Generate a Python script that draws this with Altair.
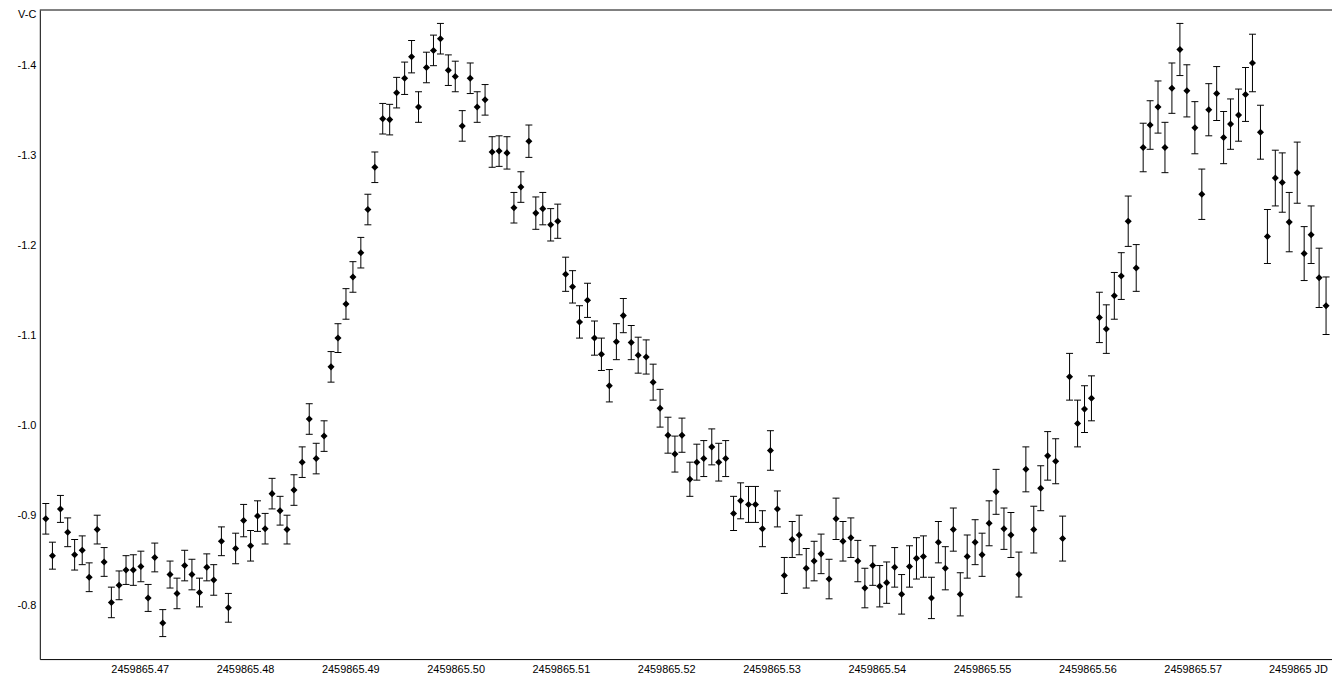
import altair as alt
import pandas as pd

BASE_JD = 2459865

# fractional part of JD
t_frac = [
    0.46108, 0.46171, 0.46247, 0.46316, 0.46382, 0.46454, 0.46520, 0.46596, 0.46662, 0.46731,
    0.46804, 0.46870, 0.46939, 0.47011, 0.47080, 0.47143, 0.47219, 0.47288, 0.47354, 0.47427,
    0.47496, 0.47568, 0.47637, 0.47703, 0.47776, 0.47842, 0.47911, 0.47987, 0.48053, 0.48119,
    0.48191, 0.48257, 0.48333, 0.48399, 0.48465, 0.48543, 0.48610, 0.48676, 0.48751, 0.48817,
    0.48883, 0.48959, 0.49025, 0.49100, 0.49167, 0.49233, 0.49308, 0.49374, 0.49440, 0.49516,
    0.49582, 0.49648, 0.49723, 0.49790, 0.49856, 0.49931, 0.49997, 0.50063, 0.50139, 0.50205,
    0.50280, 0.50347, 0.50413, 0.50488, 0.50554, 0.50620, 0.50696, 0.50762, 0.50828, 0.50903,
    0.50970, 0.51045, 0.51111, 0.51177, 0.51253, 0.51319, 0.51385, 0.51460, 0.51527, 0.51593,
    0.51668, 0.51734, 0.51810, 0.51876, 0.51942, 0.52017, 0.52083, 0.52150, 0.52225, 0.52291,
    0.52357, 0.52433, 0.52499, 0.52565, 0.52640, 0.52707, 0.52782, 0.52848, 0.52914, 0.52990,
    0.53056, 0.53122, 0.53197, 0.53263, 0.53330, 0.53405, 0.53471, 0.53547, 0.53613, 0.53679,
    0.53754, 0.53820, 0.53887, 0.53962, 0.54028, 0.54094, 0.54170, 0.54236, 0.54311, 0.54377,
    0.54443, 0.54519, 0.54585, 0.54651, 0.54727, 0.54793, 0.54859, 0.54934, 0.55000, 0.55067,
    0.55133, 0.55208, 0.55274, 0.55350, 0.55416, 0.55491, 0.55557, 0.55623, 0.55699, 0.55765,
    0.55831, 0.55907, 0.55973, 0.56039, 0.56114, 0.56180, 0.56256, 0.56322, 0.56388, 0.56464,
    0.56530, 0.56596, 0.56671, 0.56737, 0.56803, 0.56879, 0.56945, 0.57021, 0.57087, 0.57153,
    0.57228, 0.57294, 0.57360, 0.57436, 0.57502, 0.57568, 0.57644, 0.57710, 0.57785, 0.57851,
    0.57917, 0.57993, 0.58059, 0.58125, 0.58201, 0.58267,
]

# V-C magnitude
mag = [
    -0.896, -0.855, -0.907, -0.881, -0.856, -0.861, -0.831, -0.884, -0.848, -0.803,
    -0.822, -0.839, -0.839, -0.843, -0.808, -0.853, -0.780, -0.834, -0.813, -0.844,
    -0.834, -0.814, -0.842, -0.828, -0.871, -0.797, -0.863, -0.894, -0.866, -0.899,
    -0.885, -0.924, -0.905, -0.884, -0.928, -0.959, -1.007, -0.963, -0.988, -1.065,
    -1.097, -1.135, -1.165, -1.192, -1.240, -1.287, -1.341, -1.340, -1.370, -1.386,
    -1.410, -1.354, -1.398, -1.417, -1.430, -1.395, -1.388, -1.333, -1.386, -1.354,
    -1.362, -1.304, -1.305, -1.303, -1.242, -1.265, -1.316, -1.236, -1.241, -1.223,
    -1.227, -1.168, -1.154, -1.115, -1.139, -1.097, -1.079, -1.044, -1.093, -1.122,
    -1.092, -1.078, -1.076, -1.048, -1.019, -0.989, -0.968, -0.989, -0.940, -0.959,
    -0.963, -0.976, -0.959, -0.963, -0.902, -0.916, -0.912, -0.912, -0.885, -0.972,
    -0.907, -0.833, -0.873, -0.878, -0.841, -0.849, -0.857, -0.829, -0.896, -0.871,
    -0.875, -0.849, -0.819, -0.844, -0.821, -0.825, -0.842, -0.812, -0.843, -0.852,
    -0.854, -0.808, -0.870, -0.841, -0.884, -0.812, -0.854, -0.870, -0.856, -0.891,
    -0.926, -0.885, -0.878, -0.834, -0.951, -0.884, -0.930, -0.966, -0.960, -0.874,
    -1.054, -1.002, -1.018, -1.030, -1.120, -1.107, -1.144, -1.166, -1.227, -1.175,
    -1.309, -1.334, -1.354, -1.309, -1.375, -1.418, -1.372, -1.331, -1.257, -1.351,
    -1.369, -1.320, -1.335, -1.345, -1.368, -1.403, -1.326, -1.210, -1.275, -1.270,
    -1.226, -1.281, -1.191, -1.212, -1.164, -1.133,
]

# magnitude error
err = [
    0.017, 0.015, 0.015, 0.016, 0.017, 0.016, 0.016, 0.016, 0.016, 0.017,
    0.016, 0.016, 0.017, 0.017, 0.015, 0.016, 0.015, 0.015, 0.017, 0.017,
    0.017, 0.016, 0.015, 0.017, 0.016, 0.016, 0.017, 0.018, 0.017, 0.017,
    0.017, 0.017, 0.016, 0.016, 0.017, 0.017, 0.017, 0.017, 0.017, 0.017,
    0.016, 0.017, 0.017, 0.017, 0.017, 0.017, 0.017, 0.017, 0.017, 0.018,
    0.018, 0.017, 0.017, 0.017, 0.017, 0.017, 0.017, 0.017, 0.017, 0.017,
    0.017, 0.017, 0.017, 0.018, 0.017, 0.017, 0.018, 0.018, 0.018, 0.018,
    0.019, 0.019, 0.018, 0.018, 0.019, 0.019, 0.018, 0.018, 0.020, 0.019,
    0.019, 0.020, 0.019, 0.020, 0.021, 0.020, 0.020, 0.019, 0.019, 0.020,
    0.020, 0.020, 0.021, 0.020, 0.019, 0.020, 0.020, 0.020, 0.020, 0.022,
    0.020, 0.020, 0.020, 0.022, 0.022, 0.022, 0.022, 0.022, 0.023, 0.022,
    0.022, 0.023, 0.022, 0.022, 0.023, 0.023, 0.022, 0.022, 0.023, 0.023,
    0.023, 0.023, 0.023, 0.024, 0.024, 0.024, 0.024, 0.025, 0.024, 0.025,
    0.025, 0.023, 0.025, 0.025, 0.025, 0.026, 0.025, 0.027, 0.025, 0.025,
    0.026, 0.026, 0.026, 0.025, 0.028, 0.027, 0.026, 0.026, 0.028, 0.026,
    0.027, 0.027, 0.029, 0.028, 0.028, 0.029, 0.029, 0.029, 0.028, 0.029,
    0.030, 0.029, 0.028, 0.029, 0.030, 0.032, 0.030, 0.030, 0.031, 0.033,
    0.033, 0.034, 0.030, 0.032, 0.033, 0.032,
]

x_ticks = [2459865.47, 2459865.48, 2459865.49, 2459865.50, 2459865.51, 2459865.52,
           2459865.53, 2459865.54, 2459865.55, 2459865.56, 2459865.57, 2459865.58]
y_ticks = [-1.4, -1.3, -1.2, -1.1, -1.0, -0.9, -0.8]

df = pd.DataFrame({
    "jd": [BASE_JD + t for t in t_frac],
    "mag": mag,
    "err": err,
})
df["lo"] = df["mag"] - df["err"]
df["hi"] = df["mag"] + df["err"]

FONT = "Liberation Sans"

xscale = alt.Scale(domain=[2459865.460512, 2459865.583234], nice=False, zero=False)
yscale = alt.Scale(domain=[-1.46191, -0.73996], nice=False, zero=False, reverse=True)

xaxis = alt.Axis(
    values=x_ticks,
    labelExpr="datum.value > 2459865.575 ? '2459865  JD' : format(datum.value, '.2f')",
    title=None, grid=False, ticks=False, labelPadding=4, labelFlush=False,
    domainColor="black", domainWidth=1, labelColor="black",
    labelFont=FONT, labelFontSize=11,
)
yaxis = alt.Axis(
    values=y_ticks,
    labelExpr="'-' + format(abs(datum.value), '.1f')",
    title="V-C", titleAngle=0, titleAlign="right", titleBaseline="top",
    titleX=-4, titleY=-1, titleFont=FONT, titleFontSize=11, titleFontWeight="normal",
    titleColor="black",
    grid=False, ticks=False, labelPadding=4,
    domainColor="black", domainWidth=1, labelColor="black",
    labelFont=FONT, labelFontSize=11,
)

base = alt.Chart(df)
X = alt.X("jd:Q", scale=xscale, axis=xaxis)

bars = base.mark_rule(color="black", strokeWidth=1).encode(
    x=X,
    y=alt.Y("lo:Q", scale=yscale, axis=yaxis),
    y2="hi:Q",
)
cap_lo = base.mark_tick(color="black", orient="horizontal", size=7, thickness=1, opacity=1).encode(
    x=X, y=alt.Y("lo:Q", scale=yscale, axis=yaxis)
)
cap_hi = base.mark_tick(color="black", orient="horizontal", size=7, thickness=1, opacity=1).encode(
    x=X, y=alt.Y("hi:Q", scale=yscale, axis=yaxis)
)
points = base.mark_point(shape="diamond", filled=True, size=50, color="black", opacity=1).encode(
    x=X, y=alt.Y("mag:Q", scale=yscale, axis=yaxis)
)
top_line = alt.Chart(pd.DataFrame({"k": [0]})).mark_rule(color="black", strokeWidth=1).encode(
    x=alt.value(0), x2=alt.value(1300), y=alt.value(0)
)

chart = alt.layer(bars, cap_lo, cap_hi, points, top_line).properties(
    width=1300,
    height=653,
    autosize=alt.AutoSizeParams(type="none"),
    padding={"left": 32, "top": 0, "right": 0, "bottom": 18},
    background="white",
).configure_view(stroke=None)

chart.save("out.html", embed_options={"renderer": "svg", "actions": False})
